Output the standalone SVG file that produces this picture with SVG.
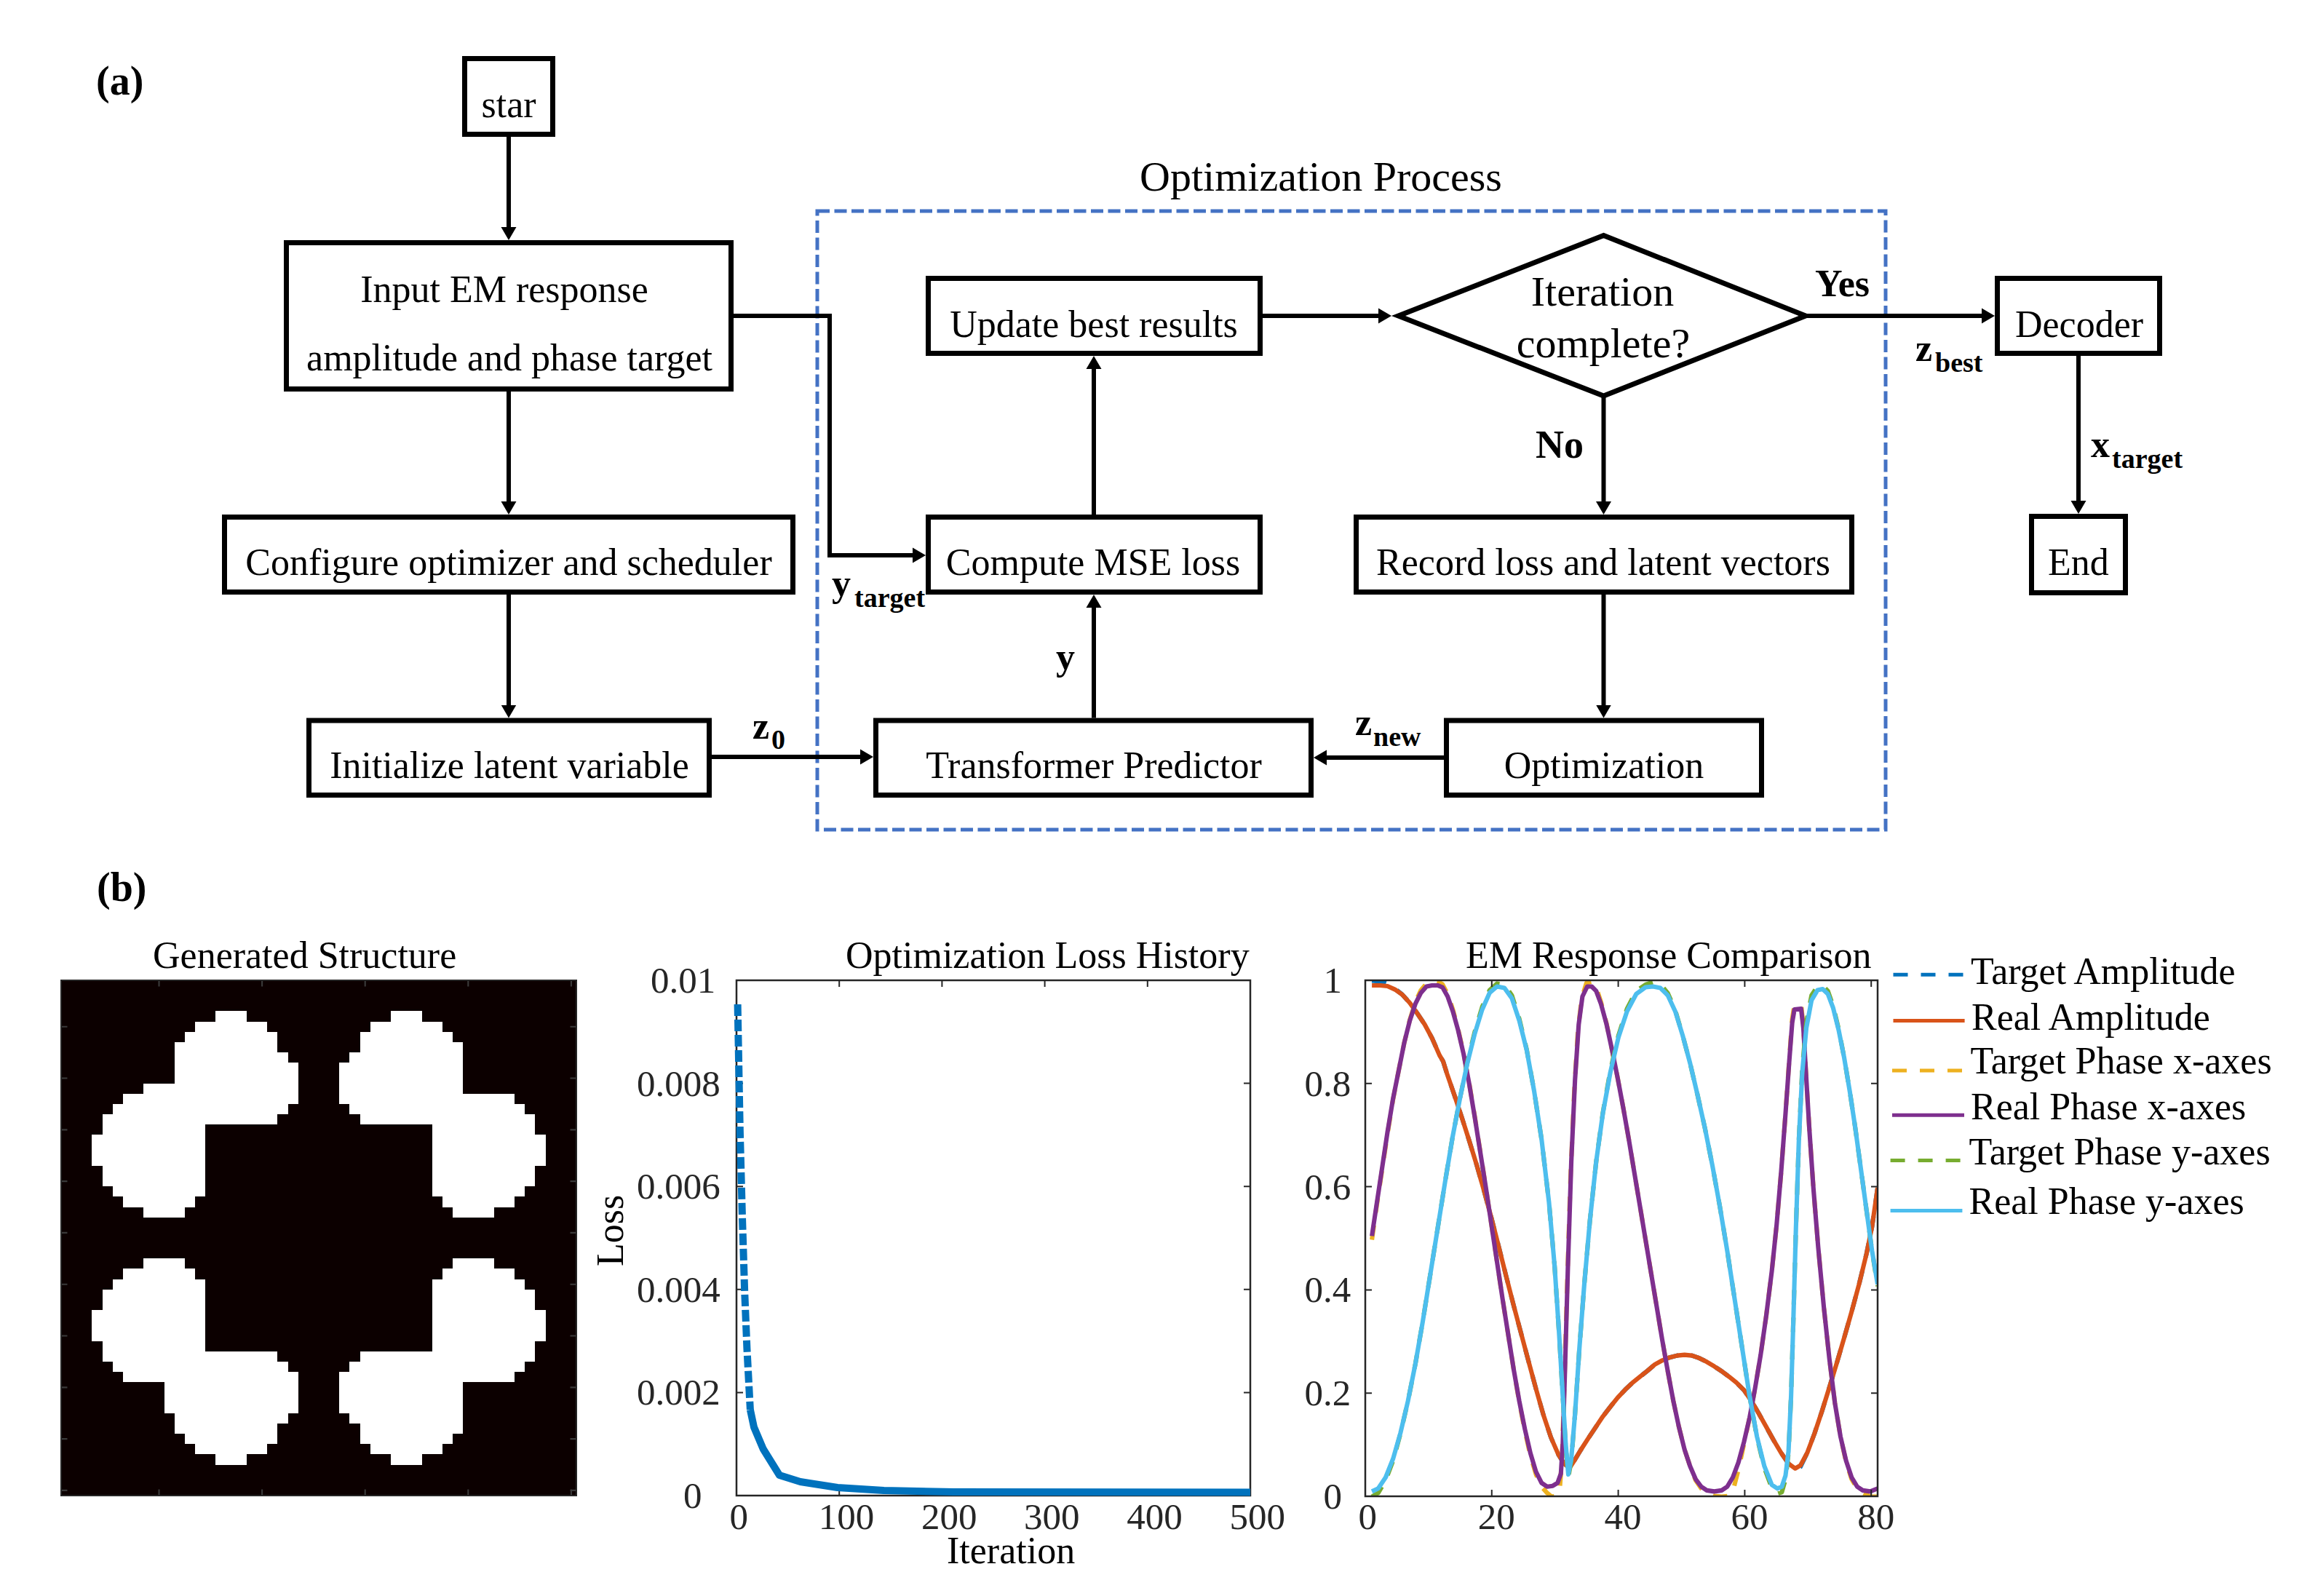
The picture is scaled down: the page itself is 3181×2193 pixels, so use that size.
<svg xmlns="http://www.w3.org/2000/svg" width="3181" height="2193" viewBox="0 0 3181 2193">
<style>
.box{fill:#fff;stroke:#000;stroke-width:7}
.t{font-family:"Liberation Serif","Times New Roman",serif;font-size:52px;fill:#000;text-anchor:middle}
.big{font-size:58px}
.b{font-family:"Liberation Serif","Times New Roman",serif;font-weight:bold;font-size:52px;fill:#000}
.sub{font-size:38px}
.conn{fill:none;stroke:#000;stroke-width:6;marker-end:url(#ah)}
.ax{fill:none;stroke:#262626;stroke-width:2.5}
.tk{stroke:#262626;stroke-width:2}
.tl{font-family:"Liberation Serif","Times New Roman",serif;font-size:51px;fill:#262626}
.pt{font-family:"Liberation Serif","Times New Roman",serif;font-size:52px;fill:#000}
.c{fill:none;stroke-width:12;stroke-linejoin:round}
.d{stroke-dasharray:39 35}
</style>
<defs>
<marker id="ah" markerUnits="userSpaceOnUse" markerWidth="20" markerHeight="22" viewBox="0 0 20 22" refX="10" refY="11" orient="auto"><path d="M0,0.5 L18,11 L0,21.5 Z" fill="#000"/></marker>
<clipPath id="emclip"><rect x="1876" y="1347" width="704" height="709"/></clipPath>
</defs>
<rect width="3181" height="2193" fill="#fff"/>

<text class="b" x="132" y="130" font-size="56" style="font-size:56px">(a)</text>
<text class="b" x="133" y="1238" style="font-size:56px">(b)</text>

<g id="optimization-process">
<rect x="1123" y="290" width="1468" height="850" fill="none" stroke="#4472C4" stroke-width="5" stroke-dasharray="17 6.5"/>
<text class="t big" x="1815" y="262">Optimization Process</text>
</g>

<g id="connectors">
<path class="conn" d="M699,188 V322"/>
<path class="conn" d="M699,538 V699"/>
<path class="conn" d="M699,817 V978.5"/>
<path class="conn" d="M978,1040 H1192"/>
<path class="conn" d="M1008,434 H1140 V763 H1264"/>
<path class="conn" d="M1503,986.5 V825"/>
<path class="conn" d="M1503,707 V497"/>
<path class="conn" d="M1735,434 H1904"/>
<path class="conn" d="M2481,434 H2733"/>
<path class="conn" d="M2856,489 V698"/>
<path class="conn" d="M2203.5,544 V699"/>
<path class="conn" d="M2203.5,817 V978.5"/>
<path class="conn" d="M1984,1041 H1813"/>
<text class="b" x="2494" y="407">Yes</text>
<text class="b" x="2110" y="629" style="font-size:54px">No</text>
<text class="b" x="2632" y="496">z<tspan class="sub" x="2659" dy="15">best</tspan></text>
<text class="b" x="2873" y="628">x<tspan class="sub" x="2902" dy="15">target</tspan></text>
<text class="b" x="1143" y="819">y<tspan class="sub" x="1174" dy="15">target</tspan></text>
<text class="b" x="1451" y="920">y</text>
<text class="b" x="1034" y="1015">z<tspan class="sub" x="1060" dy="14">0</tspan></text>
<text class="b" x="1862" y="1010">z<tspan class="sub" x="1887" dy="15">new</tspan></text>
</g>

<g id="star"><rect class="box" x="638.5" y="80.5" width="121" height="104"/><text class="t" x="699" y="161">star</text></g>
<g id="input"><rect class="box" x="393.5" y="333.5" width="611" height="201"/><text class="t" x="693" y="415">Input EM response</text><text class="t" x="700" y="509">amplitude and phase target</text></g>
<g id="configure"><rect class="box" x="308.5" y="710.5" width="781" height="103"/><text class="t" x="699" y="789.5">Configure optimizer and scheduler</text></g>
<g id="initialize"><rect class="box" x="424.5" y="990" width="550" height="102.5"/><text class="t" x="700" y="1069">Initialize latent variable</text></g>
<g id="compute-mse"><rect class="box" x="1275.5" y="710.5" width="456" height="103"/><text class="t" x="1502" y="789.5">Compute MSE loss</text></g>
<g id="update-best"><rect class="box" x="1275.5" y="382.5" width="456" height="103"/><text class="t" x="1503" y="463">Update best results</text></g>
<g id="transformer"><rect class="box" x="1203.5" y="990" width="598" height="102.5"/><text class="t" x="1503" y="1069">Transformer Predictor</text></g>
<g id="iteration-check"><path d="M2203.5,323.5 L2481,434 L2203.5,544 L1921.5,434 Z" fill="#fff" stroke="#000" stroke-width="7"/><text class="t big" x="2202" y="420">Iteration</text><text class="t big" x="2203" y="491">complete?</text></g>
<g id="record"><rect class="box" x="1863.5" y="710.5" width="681" height="103"/><text class="t" x="2203" y="789.5">Record loss and latent vectors</text></g>
<g id="optimization"><rect class="box" x="1987.5" y="990" width="433" height="102.5"/><text class="t" x="2204" y="1069">Optimization</text></g>
<g id="decoder"><rect class="box" x="2744.5" y="382.5" width="223" height="103"/><text class="t" x="2857" y="463">Decoder</text></g>
<g id="end"><rect class="box" x="2791.5" y="709.5" width="129" height="105"/><text class="t" x="2856" y="790">End</text></g>

<g id="generated-structure">
<text class="pt" x="210" y="1330">Generated Structure</text>
<g transform="translate(84 1347) scale(14.16)" shape-rendering="crispEdges">
<rect x="0" y="0" width="50" height="50" fill="#0c0000"/>
<g fill="#fff">
<rect x="15" y="3" width="3" height="1"/><rect x="13" y="4" width="7" height="1"/><rect x="12" y="5" width="9" height="1"/><rect x="11" y="6" width="10" height="1"/><rect x="11" y="7" width="11" height="1"/><rect x="11" y="8" width="12" height="2"/><rect x="8" y="10" width="15" height="1"/><rect x="6" y="11" width="17" height="1"/><rect x="5" y="12" width="17" height="1"/><rect x="4" y="13" width="17" height="1"/><rect x="4" y="14" width="10" height="1"/><rect x="3" y="15" width="11" height="3"/><rect x="4" y="18" width="10" height="2"/><rect x="5" y="20" width="9" height="1"/><rect x="6" y="21" width="7" height="1"/><rect x="8" y="22" width="4" height="1"/>
<rect x="32" y="3" width="3" height="1"/><rect x="30" y="4" width="7" height="1"/><rect x="29" y="5" width="9" height="1"/><rect x="29" y="6" width="10" height="1"/><rect x="28" y="7" width="11" height="1"/><rect x="27" y="8" width="12" height="3"/><rect x="27" y="11" width="17" height="1"/><rect x="28" y="12" width="17" height="1"/><rect x="29" y="13" width="17" height="1"/><rect x="36" y="14" width="10" height="1"/><rect x="36" y="15" width="11" height="3"/><rect x="36" y="18" width="10" height="2"/><rect x="36" y="20" width="9" height="1"/><rect x="37" y="21" width="7" height="1"/><rect x="38" y="22" width="4" height="1"/>
<rect x="8" y="27" width="4" height="1"/><rect x="6" y="28" width="7" height="1"/><rect x="5" y="29" width="9" height="1"/><rect x="4" y="30" width="10" height="2"/><rect x="3" y="32" width="11" height="3"/><rect x="4" y="35" width="10" height="1"/><rect x="4" y="36" width="17" height="1"/><rect x="5" y="37" width="17" height="1"/><rect x="6" y="38" width="17" height="1"/><rect x="10" y="39" width="13" height="3"/><rect x="11" y="42" width="11" height="1"/><rect x="11" y="43" width="10" height="1"/><rect x="12" y="44" width="9" height="1"/><rect x="13" y="45" width="7" height="1"/><rect x="15" y="46" width="3" height="1"/>
<rect x="38" y="27" width="4" height="1"/><rect x="37" y="28" width="7" height="1"/><rect x="36" y="29" width="9" height="1"/><rect x="36" y="30" width="10" height="2"/><rect x="36" y="32" width="11" height="3"/><rect x="36" y="35" width="10" height="1"/><rect x="29" y="36" width="17" height="1"/><rect x="28" y="37" width="17" height="1"/><rect x="27" y="38" width="17" height="1"/><rect x="27" y="39" width="12" height="3"/><rect x="28" y="42" width="11" height="1"/><rect x="29" y="43" width="10" height="1"/><rect x="29" y="44" width="9" height="1"/><rect x="30" y="45" width="7" height="1"/><rect x="32" y="46" width="3" height="1"/>
</g>
</g>
<g transform="translate(84 1347) scale(14.16)" stroke="#3a3a3a" stroke-width="0.15">
<path d="M9.5,0v0.6M19.5,0v0.6M29.5,0v0.6M39.5,0v0.6M49.5,0v0.6M9.5,50v-0.6M19.5,50v-0.6M29.5,50v-0.6M39.5,50v-0.6M49.5,50v-0.6M0,4.5h0.6M0,9.5h0.6M0,14.5h0.6M0,19.5h0.6M0,24.5h0.6M0,29.5h0.6M0,34.5h0.6M0,39.5h0.6M0,44.5h0.6M0,49.5h0.6M50,4.5h-0.6M50,9.5h-0.6M50,14.5h-0.6M50,19.5h-0.6M50,24.5h-0.6M50,29.5h-0.6M50,34.5h-0.6M50,39.5h-0.6M50,44.5h-0.6M50,49.5h-0.6"/>
</g>
<rect x="84" y="1347" width="708" height="708" fill="none" stroke="#262626" stroke-width="2"/>
</g>

<g id="loss-history">
<text class="pt" x="1162" y="1330">Optimization Loss History</text>
<rect class="ax" x="1012" y="1347" width="706" height="708" fill="#fff" style="fill:#fff"/>
<path class="tk" d="M1153.2,1347v9M1294.4,1347v9M1435.6,1347v9M1576.8,1347v9M1153.2,2055v-9M1294.4,2055v-9M1435.6,2055v-9M1576.8,2055v-9M1012,1488.6h9M1012,1630.2h9M1012,1771.8h9M1012,1913.4h9M1718,1488.6h-9M1718,1630.2h-9M1718,1771.8h-9M1718,1913.4h-9"/>
<path d="M1013.6,1380 L1016.8,1553 L1020,1673 L1023.2,1775 L1026.4,1853 L1030.9,1937" fill="none" stroke="#0072BD" stroke-width="10" stroke-dasharray="16 5"/>
<path d="M1030.9,1937 L1036,1961 L1048.7,1991 L1071,2027 L1099.7,2036 L1150.8,2044 L1214.5,2048 L1310,2050 L1718,2050.5" fill="none" stroke="#0072BD" stroke-width="10" stroke-linejoin="round"/>
<text class="tl" x="894" y="1364">0.01</text>
<text class="tl" x="875" y="1505.6">0.008</text>
<text class="tl" x="875" y="1647.2">0.006</text>
<text class="tl" x="875" y="1788.8">0.004</text>
<text class="tl" x="875" y="1930.4">0.002</text>
<text class="tl" x="939" y="2072">0</text>
<text class="tl" x="1002.5" y="2101">0</text>
<text class="tl" x="1124.7" y="2101">100</text>
<text class="tl" x="1265.9" y="2101">200</text>
<text class="tl" x="1407.1" y="2101">300</text>
<text class="tl" x="1548.3" y="2101">400</text>
<text class="tl" x="1689.5" y="2101">500</text>
<text class="pt" x="1301" y="2148" fill="#262626">Iteration</text>
<text class="pt" transform="translate(856 1740) rotate(-90)" fill="#262626">Loss</text>
</g>

<g id="em-comparison">
<text class="pt" x="2014" y="1330">EM Response Comparison</text>
<g clip-path="url(#emclip)">
<g transform="translate(1830 1280) scale(0.5102)">
<polyline class="c d" stroke="#0072BD" points="108,132 130,134 150,141 170,154 190,170 210,192 230,220 250,250 270,287 290,333 300,350 310,382 330,440 350,500 370,563 390,628 410,698 430,772 450,850 470,930 490,1008 510,1083 530,1158 550,1232 570,1302 590,1362 610,1408 625,1432 640,1445 655,1422 670,1397 690,1366 710,1336 730,1306 750,1280 770,1255 790,1234 810,1215 830,1199 850,1183 870,1166 890,1155 910,1147 930,1142 950,1140 970,1142 990,1149 1010,1159 1030,1171 1050,1184 1070,1199 1090,1215 1110,1235 1130,1264 1150,1298 1170,1334 1190,1370 1210,1404 1230,1433 1248,1450 1262,1442 1280,1405 1300,1352 1320,1292 1340,1228 1360,1162 1380,1094 1400,1024 1420,950 1440,868 1455,795 1470,690"/>
<polyline class="c" stroke="#D95319" points="108,145 130,145 150,147 170,156 190,170 210,192 230,220 250,250 270,287 290,333 300,350 310,382 330,440 350,500 370,563 390,628 410,698 430,772 450,850 470,930 490,1008 510,1083 530,1158 550,1232 570,1302 590,1362 610,1408 625,1432 640,1445 655,1422 670,1397 690,1366 710,1336 730,1306 750,1280 770,1255 790,1234 810,1215 830,1199 850,1183 870,1166 890,1155 910,1147 930,1142 950,1140 970,1142 990,1149 1010,1159 1030,1171 1050,1184 1070,1199 1090,1215 1110,1235 1130,1264 1150,1298 1170,1334 1190,1370 1210,1404 1230,1433 1248,1446 1262,1438 1280,1405 1300,1352 1320,1292 1340,1228 1360,1162 1380,1094 1400,1024 1420,950 1440,868 1455,795 1470,690"/>
<polyline class="c d" stroke="#EDB120" points="108,830 120,745 135,645 150,545 165,452 180,375 195,300 210,238 225,190 240,158 255,140 270,133 285,134 298,142 312,168 326,210 340,262 355,328 370,408 385,498 400,593 415,690 430,790 445,890 460,990 475,1085 490,1180 505,1268 520,1345 535,1412 550,1462 565,1495 580,1512 592,1522 604,1520 614,1500 620,1420 626,1230 634,950 643,660 653,430 663,265 673,180 686,138 700,135 712,150 725,190 740,248 755,320 770,395 785,475 800,560 815,650 830,740 845,830 860,920 875,1010 890,1100 905,1185 920,1265 935,1335 950,1395 965,1440 980,1478 995,1500 1010,1512 1030,1520 1050,1522 1068,1520 1082,1500 1095,1450 1110,1380 1125,1310 1140,1230 1155,1140 1170,1035 1185,915 1198,790 1210,650 1222,490 1232,345 1240,235 1246,198 1264,196 1270,255 1277,380 1286,530 1297,690 1310,850 1325,1010 1340,1150 1355,1270 1370,1360 1385,1428 1400,1475 1415,1500 1430,1512 1450,1522 1470,1522"/>
<polyline class="c" stroke="#7E2F8E" points="108,820 120,740 135,640 150,540 165,450 180,375 195,300 210,240 225,195 240,165 255,148 270,145 285,145 298,150 312,175 326,215 340,265 355,330 370,410 385,500 400,595 415,690 430,790 445,890 460,990 475,1085 490,1180 505,1265 520,1340 535,1405 550,1455 565,1485 580,1495 595,1493 608,1485 617,1460 622,1380 628,1180 636,900 645,620 655,400 665,250 675,175 688,148 700,148 712,160 725,195 740,250 755,320 770,395 785,475 800,560 815,650 830,740 845,830 860,920 875,1010 890,1100 905,1185 920,1265 935,1335 950,1395 965,1440 980,1475 995,1495 1010,1505 1030,1508 1050,1505 1065,1495 1080,1470 1095,1430 1110,1375 1125,1310 1140,1230 1155,1140 1170,1035 1185,915 1198,790 1210,650 1222,490 1232,350 1240,245 1246,210 1264,208 1270,260 1277,380 1286,530 1297,690 1310,850 1325,1010 1340,1150 1355,1270 1370,1360 1385,1425 1400,1470 1415,1495 1430,1505 1450,1508 1470,1500"/>
<polyline class="c d" stroke="#77AC30" points="108,1522 125,1512 145,1478 165,1425 185,1352 205,1265 225,1165 245,1050 265,925 285,800 305,675 325,555 345,450 365,352 385,270 405,203 425,158 445,140 465,143 485,172 505,235 525,318 545,430 565,560 585,730 600,900 612,1080 622,1250 630,1385 637,1470 645,1425 655,1300 667,1120 680,950 695,780 712,620 730,488 750,375 772,280 795,208 820,160 845,143 865,136 885,142 905,166 925,212 945,280 965,355 985,440 1005,530 1025,630 1045,740 1065,860 1085,990 1105,1120 1125,1250 1145,1362 1165,1445 1185,1498 1200,1514 1212,1510 1222,1475 1230,1405 1237,1250 1243,1050 1250,800 1258,560 1267,370 1278,245 1292,172 1308,148 1322,146 1336,160 1350,200 1365,262 1380,340 1395,430 1410,530 1425,640 1440,750 1455,860 1470,955"/>
<polyline class="c" stroke="#4DBEEE" points="108,1508 125,1500 145,1470 165,1420 185,1350 205,1265 225,1165 245,1050 265,925 285,800 305,675 325,555 345,450 365,355 385,275 405,210 425,165 445,148 465,152 485,180 505,240 525,320 545,430 565,560 585,730 600,900 612,1080 622,1250 630,1380 637,1462 645,1420 655,1300 667,1120 680,950 695,780 712,620 730,490 750,380 772,285 795,215 820,168 845,150 865,148 885,152 905,172 925,215 945,280 965,355 985,440 1005,530 1025,630 1045,740 1065,860 1085,990 1105,1120 1125,1250 1145,1360 1165,1440 1185,1490 1200,1500 1212,1495 1222,1465 1230,1400 1237,1250 1243,1050 1250,800 1258,560 1267,380 1278,260 1292,185 1308,158 1322,155 1336,168 1350,205 1365,265 1380,340 1395,430 1410,530 1425,640 1440,750 1455,860 1470,950"/>
</g>
</g>
<rect class="ax" x="1876" y="1347" width="704" height="709"/>
<path class="tk" d="M2049.8,1347v9M2223.6,1347v9M2397.4,1347v9M2571.2,1347v9M2049.8,2056v-9M2223.6,2056v-9M2397.4,2056v-9M2571.2,2056v-9M1876,1488.8h9M1876,1630.6h9M1876,1772.4h9M1876,1914.2h9M2580,1488.8h-9M2580,1630.6h-9M2580,1772.4h-9M2580,1914.2h-9"/>
<text class="tl" x="1818.5" y="1364">1</text>
<text class="tl" x="1792.5" y="1506">0.8</text>
<text class="tl" x="1792.5" y="1647.6">0.6</text>
<text class="tl" x="1792.5" y="1789.4">0.4</text>
<text class="tl" x="1792.5" y="1931.2">0.2</text>
<text class="tl" x="1818.5" y="2073">0</text>
<text class="tl" x="1866.5" y="2101">0</text>
<text class="tl" x="2030.8" y="2101">20</text>
<text class="tl" x="2204.6" y="2101">40</text>
<text class="tl" x="2378.4" y="2101">60</text>
<text class="tl" x="2552.2" y="2101">80</text>
<g id="legend" stroke-width="5">
<line x1="2601.5" y1="1339.3" x2="2699.2" y2="1339.3" stroke="#0072BD" stroke-dasharray="20 18"/>
<line x1="2601.5" y1="1402.6" x2="2699.6" y2="1402.6" stroke="#D95319"/>
<line x1="2600" y1="1471" x2="2699" y2="1471" stroke="#EDB120" stroke-dasharray="20 18"/>
<line x1="2600" y1="1532.3" x2="2699" y2="1532.3" stroke="#7E2F8E"/>
<line x1="2597.6" y1="1594.4" x2="2696.4" y2="1594.4" stroke="#77AC30" stroke-dasharray="20 18"/>
<line x1="2597.6" y1="1663.6" x2="2696.4" y2="1663.6" stroke="#4DBEEE"/>
<text class="pt" x="2708" y="1352" stroke="none">Target Amplitude</text>
<text class="pt" x="2709" y="1415" stroke="none">Real Amplitude</text>
<text class="pt" x="2707.5" y="1475" stroke="none">Target Phase x-axes</text>
<text class="pt" x="2708" y="1538" stroke="none">Real Phase x-axes</text>
<text class="pt" x="2705.5" y="1599.5" stroke="none">Target Phase y-axes</text>
<text class="pt" x="2705.5" y="1667.5" stroke="none">Real Phase y-axes</text>
</g>
</g>
</svg>
